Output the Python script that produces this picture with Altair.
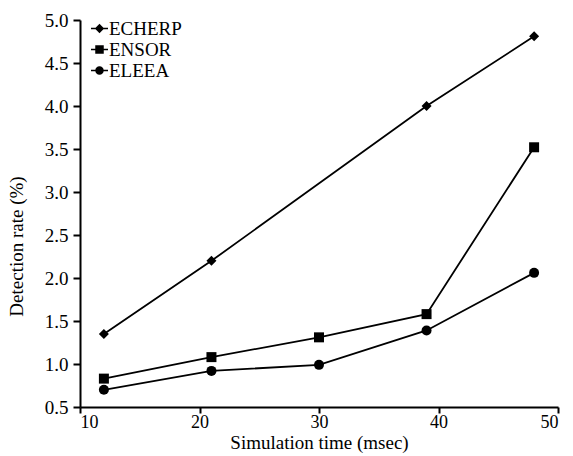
import altair as alt
import pandas as pd

series_names = ["ECHERP", "ENSOR", "ELEEA"]

echerp_x = [12, 21, 39, 48]
echerp_y = [1.35, 2.20, 4.00, 4.81]

ensor_x = [12, 21, 30, 39, 48]
ensor_y = [0.83, 1.08, 1.31, 1.58, 3.52]

eleea_x = [12, 21, 30, 39, 48]
eleea_y = [0.70, 0.92, 0.99, 1.39, 2.06]

x_ticks = [10, 20, 30, 40, 50]
y_ticks = [0.5, 1.0, 1.5, 2.0, 2.5, 3.0, 3.5, 4.0, 4.5, 5.0]

rows = []
for name, xs, ys in [("ECHERP", echerp_x, echerp_y),
                     ("ENSOR", ensor_x, ensor_y),
                     ("ELEEA", eleea_x, eleea_y)]:
    for xv, yv in zip(xs, ys):
        rows.append({"series": name, "x": xv, "y": yv})
df = pd.DataFrame(rows)

FONT = "Liberation Serif"

x_enc = alt.X("x:Q", scale=alt.Scale(domain=[10, 50], nice=False, zero=False),
              axis=alt.Axis(values=x_ticks, title="Simulation time (msec)", format="d",
                            titleFontSize=19, labelFontSize=18, tickSize=6,
                            labelPadding=0, titlePadding=2))
y_enc = alt.Y("y:Q", scale=alt.Scale(domain=[0.5, 5.0], nice=False, zero=False),
              axis=alt.Axis(values=y_ticks, title="Detection rate (%)", format=".1f",
                            titleFontSize=19, labelFontSize=19, titleY=226, tickSize=7,
                            labelPadding=5, titlePadding=18))

base = alt.Chart(df)

lines = base.mark_line(color="black", strokeWidth=1.8).encode(
    x=x_enc, y=y_enc, detail="series:N"
)

points = base.mark_point(filled=True, color="black", size=100, opacity=1).encode(
    x=x_enc, y=y_enc,
    shape=alt.Shape("series:N",
                    scale=alt.Scale(domain=series_names, range=["diamond", "square", "circle"]),
                    legend=None),
)

bar = "M-1,-0.09H1V0.09H-1Z"
leg_paths = [
    bar + "M0,-0.55L0.55,0L0,0.55L-0.55,0Z",
    bar + "M-0.5,-0.5H0.5V0.5H-0.5Z",
    bar + "M-0.5,0A0.5,0.5 0 1,1 0.5,0A0.5,0.5 0 1,1 -0.5,0Z",
]

legend_layer = base.transform_filter("datum.y < -100").mark_point(
    filled=True, color="black", size=100, opacity=1
).encode(
    x=x_enc, y=y_enc,
    shape=alt.Shape("series:N",
                    scale=alt.Scale(domain=series_names, range=leg_paths),
                    legend=alt.Legend(title=None, orient="none", legendX=10, legendY=-1,
                                      padding=0, rowPadding=1, symbolSize=289,
                                      symbolFillColor="black", symbolStrokeWidth=0,
                                      symbolOpacity=1,
                                      labelFont=FONT, labelFontSize=19, labelColor="black",
                                      labelOffset=0)),
)

chart = alt.layer(lines, points, legend_layer).resolve_scale(shape="independent").properties(
    width=478, height=387,
    autosize=alt.AutoSizeParams(type="none"),
    padding={"left": 80, "top": 20, "right": 15, "bottom": 49},
    background="white",
).configure_view(stroke=None).configure_axis(
    domainColor="black", domainWidth=2, tickColor="black", tickWidth=2,
    labelFont=FONT, labelColor="black",
    titleFont=FONT, titleFontWeight="normal", titleColor="black",
    grid=False,
)

chart.save("out.html", embed_options={"renderer": "svg", "actions": False})
